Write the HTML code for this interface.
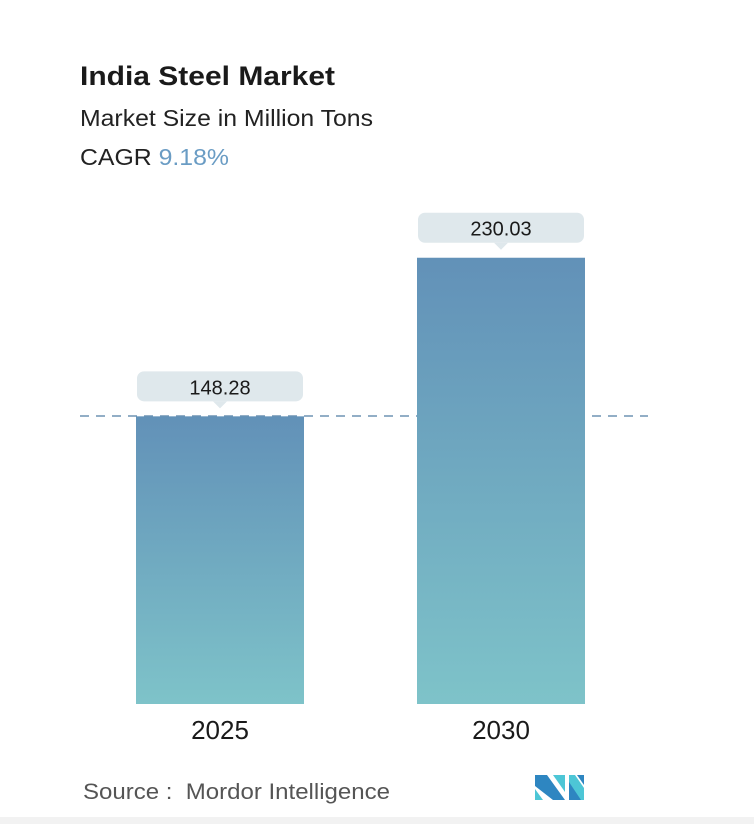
<!DOCTYPE html>
<html><head><meta charset="utf-8">
<style>
body{margin:0;background:#fff;width:754px;height:824px;overflow:hidden;font-family:"Liberation Sans","DejaVu Sans",sans-serif;}
svg{display:block}
</style></head>
<body>
<svg id="chart" width="754" height="824" viewBox="0 0 754 824" xmlns="http://www.w3.org/2000/svg">
<defs>
<linearGradient id="barGrad" x1="0" y1="0" x2="0" y2="1">
<stop offset="0" stop-color="#6291b8"/>
<stop offset="1" stop-color="#7ec3c9"/>
</linearGradient>
</defs>
<text x="80" y="85" font-size="27" font-weight="bold" fill="#1a1a1a" textLength="255" lengthAdjust="spacingAndGlyphs">India Steel Market</text>
<text x="80" y="126" font-size="23" fill="#222" textLength="293" lengthAdjust="spacingAndGlyphs">Market Size in Million Tons</text>
<text x="80" y="165" font-size="23" fill="#222" textLength="149" lengthAdjust="spacingAndGlyphs">CAGR <tspan fill="#6a9cc4">9.18%</tspan></text>
<line x1="80" y1="416" x2="648" y2="416" stroke="#6f93b3" stroke-width="1.5" stroke-dasharray="9,7"/>
<g id="bars"></g>
<g id="labels"></g>
<text x="83" y="799" font-size="22" fill="#555" textLength="307" lengthAdjust="spacingAndGlyphs" xml:space="preserve">Source :  Mordor Intelligence</text>
<g>
<polygon points="535,775 547,775 565,800 553,800 535,786" fill="#2e86c1"/>
<polygon points="535,789 543,800 535,800" fill="#4dc6d6"/>
<polygon points="553,775 565,775 565,792" fill="#4dc6d6"/>
<polygon points="569,775 575,775 584,788 584,800 569,800" fill="#4dc6d6"/>
<polygon points="577,775 584,775 584,785" fill="#2e86c1"/>
<polygon points="569,782 581,800 569,800" fill="#2e86c1"/>
</g>
<rect x="0" y="817" width="754" height="7" fill="#f2f2f2"/>
</svg>
<script>
const categories = ["2025", "2030"];
const values = [148.28, 230.03];
const valueLabels = ["148.28", "230.03"];

const NS = "http://www.w3.org/2000/svg";
const baseY = 704, pxPerUnit = 1.94;
const yScale = v => baseY - v * pxPerUnit;
const xStart = 136, bandStep = 281, barW = 168;
const xScale = i => xStart + i * bandStep;
const barsG = document.getElementById("bars");
const labelsG = document.getElementById("labels");
function mk(tag, attrs){const e=document.createElementNS(NS,tag);for(const k in attrs)e.setAttribute(k,attrs[k]);return e;}
categories.forEach((c,i)=>{
  const x = xScale(i), y = yScale(values[i]);
  const r = mk("rect",{x:x,y:y,width:barW,height:baseY-y,fill:"url(#barGrad)"});
  
  
  barsG.appendChild(r);
  const cx = x + barW/2;
  const bx = mk("rect",{x:cx-83,y:y-45,width:166,height:30,rx:7,fill:"#dfe8ec"});
  
  
  labelsG.appendChild(bx);
  const tri = mk("polygon",{points:(cx-7)+","+(y-15)+" "+(cx+7)+","+(y-15)+" "+cx+","+(y-8),fill:"#dfe8ec"});
  
  
  labelsG.appendChild(tri);
  const t = mk("text",{x:cx,y:y-22,"text-anchor":"middle","font-size":"20",fill:"#1a1a1a"});
  t.textContent = valueLabels[i];
  
  
  labelsG.appendChild(t);
  const xl = mk("text",{x:cx,y:739,"text-anchor":"middle","font-size":"26",fill:"#1a1a1a"});
  xl.textContent = c;
  
  
  labelsG.appendChild(xl);
});
</script>
</body></html>
